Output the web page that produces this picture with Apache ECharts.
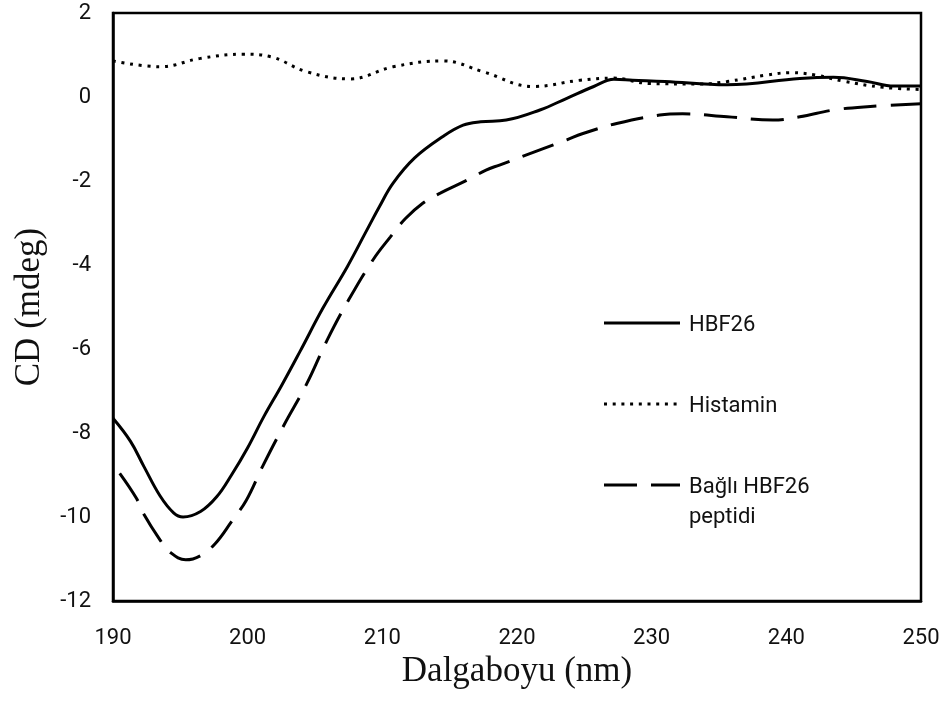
<!DOCTYPE html>
<html>
<head>
<meta charset="utf-8">
<script src="https://cdn.jsdelivr.net/npm/echarts@6/dist/echarts.min.js"></script>
<style>html,body{margin:0;padding:0;background:#fff;}#c{width:947px;height:704px;}</style>
</head>
<body>
<div id="c"></div>
<script>
// ---- data ----
const hbfX = [190, 191.3, 192.3, 193.5, 194.5, 195.2, 196.5, 197.7, 198.8, 200.0, 201.2, 202.5, 203.9, 205.6, 207.4, 208.8, 209.8, 210.8, 212.4, 214.5, 216.0, 217.3, 219.2, 221.7, 223.7, 225.7, 227.2, 228.6, 231.0, 235.6, 241.0, 243.5, 246.0, 248.0, 250.0];
const hbfY = [-7.65, -8.2, -8.8, -9.5, -9.9, -10.0, -9.87, -9.52, -9.0, -8.35, -7.61, -6.88, -6.05, -5.02, -4.04, -3.2, -2.6, -2.05, -1.45, -0.94, -0.67, -0.59, -0.55, -0.31, -0.03, 0.25, 0.42, 0.40, 0.37, 0.29, 0.44, 0.47, 0.37, 0.26, 0.26];

const histX = [190, 193.5, 196.5, 199.7, 201.7, 204.4, 207.6, 210.8, 214.5, 217.5, 221.2, 224.7, 227.1, 229.9, 233.6, 235.6, 238.5, 240.3, 242.2, 244.2, 247.2, 250];
const histY = [0.86, 0.72, 0.92, 1.02, 0.96, 0.60, 0.43, 0.72, 0.86, 0.60, 0.25, 0.40, 0.45, 0.32, 0.31, 0.37, 0.52, 0.58, 0.52, 0.38, 0.23, 0.18];

const boundX = [190.5, 191.75, 192.25, 193.5, 194.2, 195.4, 196.5, 197.6, 198.8, 199.9, 201.1, 202.7, 204.4, 205.9, 207.5, 209.3, 210.6, 211.7, 213.0, 214.3, 216.3, 217.7, 218.7, 221.7, 223.7, 224.9, 227.4, 230.6, 232.3, 235.6, 239.0, 241.0, 243.5, 246.0, 250.0];
const boundY = [-8.96, -9.56, -9.91, -10.55, -10.83, -11.02, -10.92, -10.63, -10.11, -9.6, -8.8, -7.81, -6.82, -5.79, -4.83, -3.88, -3.33, -2.9, -2.53, -2.29, -1.98, -1.74, -1.62, -1.26, -1.02, -0.87, -0.63, -0.43, -0.40, -0.47, -0.55, -0.47, -0.31, -0.23, -0.16];

const seriesNames = ['HBF26', 'Histamin', 'Bağlı HBF26\npeptidi'];
const xTicks = [190, 200, 210, 220, 230, 240, 250];
const yTicks = [-12, -10, -8, -6, -4, -2, 0, 2];
const xTitle = 'Dalgaboyu (nm)';
const yTitle = 'CD (mdeg)';

// ---- build ----
const pairs = (xs, ys) => xs.map((x, i) => [x, ys[i]]);
const chart = echarts.init(document.getElementById('c'));

const G = {left: 113, right: 26, top: 13, bottom: 103};
const legendX1 = 604, legendX2 = 680, legendTextX = 689;
const legendY = [323, 404, 485];
const dashes = [null, [3, 5.7], [33, 14]];

const graphics = [];
seriesNames.forEach((n, i) => {
  graphics.push({
    type: 'line', z: 100,
    shape: {x1: legendX1, y1: legendY[i], x2: legendX2, y2: legendY[i]},
    style: {stroke: '#000', lineWidth: 3, lineDash: dashes[i]}
  });
  graphics.push({
    type: 'text', z: 100,
    x: legendTextX, y: legendY[i] - 13,
    style: {text: n, fill: '#111', font: '22px Roboto', lineHeight: 30, textVerticalAlign: 'top'}
  });
});

chart.setOption({
  animation: false,
  backgroundColor: '#fff',
  grid: Object.assign({show: true, borderColor: '#000', borderWidth: 2.5, backgroundColor: 'transparent'}, G),
  xAxis: {
    type: 'value', min: xTicks[0], max: xTicks[xTicks.length - 1], interval: 10,
    name: xTitle, nameLocation: 'middle', nameGap: 50,
    nameTextStyle: {fontFamily: 'Liberation Serif', fontSize: 35, color: '#111'},
    axisLine: {show: true, onZero: false, lineStyle: {color: '#000', width: 2.5}},
    axisTick: {show: false},
    splitLine: {show: false},
    axisLabel: {margin: 26, fontFamily: 'Roboto', fontSize: 22, color: '#111'}
  },
  yAxis: {
    type: 'value', min: yTicks[0], max: yTicks[yTicks.length - 1], interval: 2,
    name: yTitle, nameLocation: 'middle', nameGap: 66,
    nameTextStyle: {fontFamily: 'Liberation Serif', fontSize: 35, color: '#111'},
    axisLine: {show: true, onZero: false, lineStyle: {color: '#000', width: 2.5}},
    axisTick: {show: false},
    splitLine: {show: false},
    axisLabel: {margin: 22, fontFamily: 'Roboto', fontSize: 22, color: '#111'}
  },
  series: [
    {name: seriesNames[0], type: 'line', data: pairs(hbfX, hbfY), smooth: 0.4, showSymbol: false,
     lineStyle: {color: '#000', width: 3}},
    {name: seriesNames[1], type: 'line', data: pairs(histX, histY), smooth: 0.4, showSymbol: false,
     lineStyle: {color: '#000', width: 3, type: dashes[1]}},
    {name: seriesNames[2], type: 'line', data: pairs(boundX, boundY), smooth: 0.4, showSymbol: false,
     lineStyle: {color: '#000', width: 3, type: dashes[2]}}
  ],
  graphic: graphics
});
</script>
</body>
</html>
